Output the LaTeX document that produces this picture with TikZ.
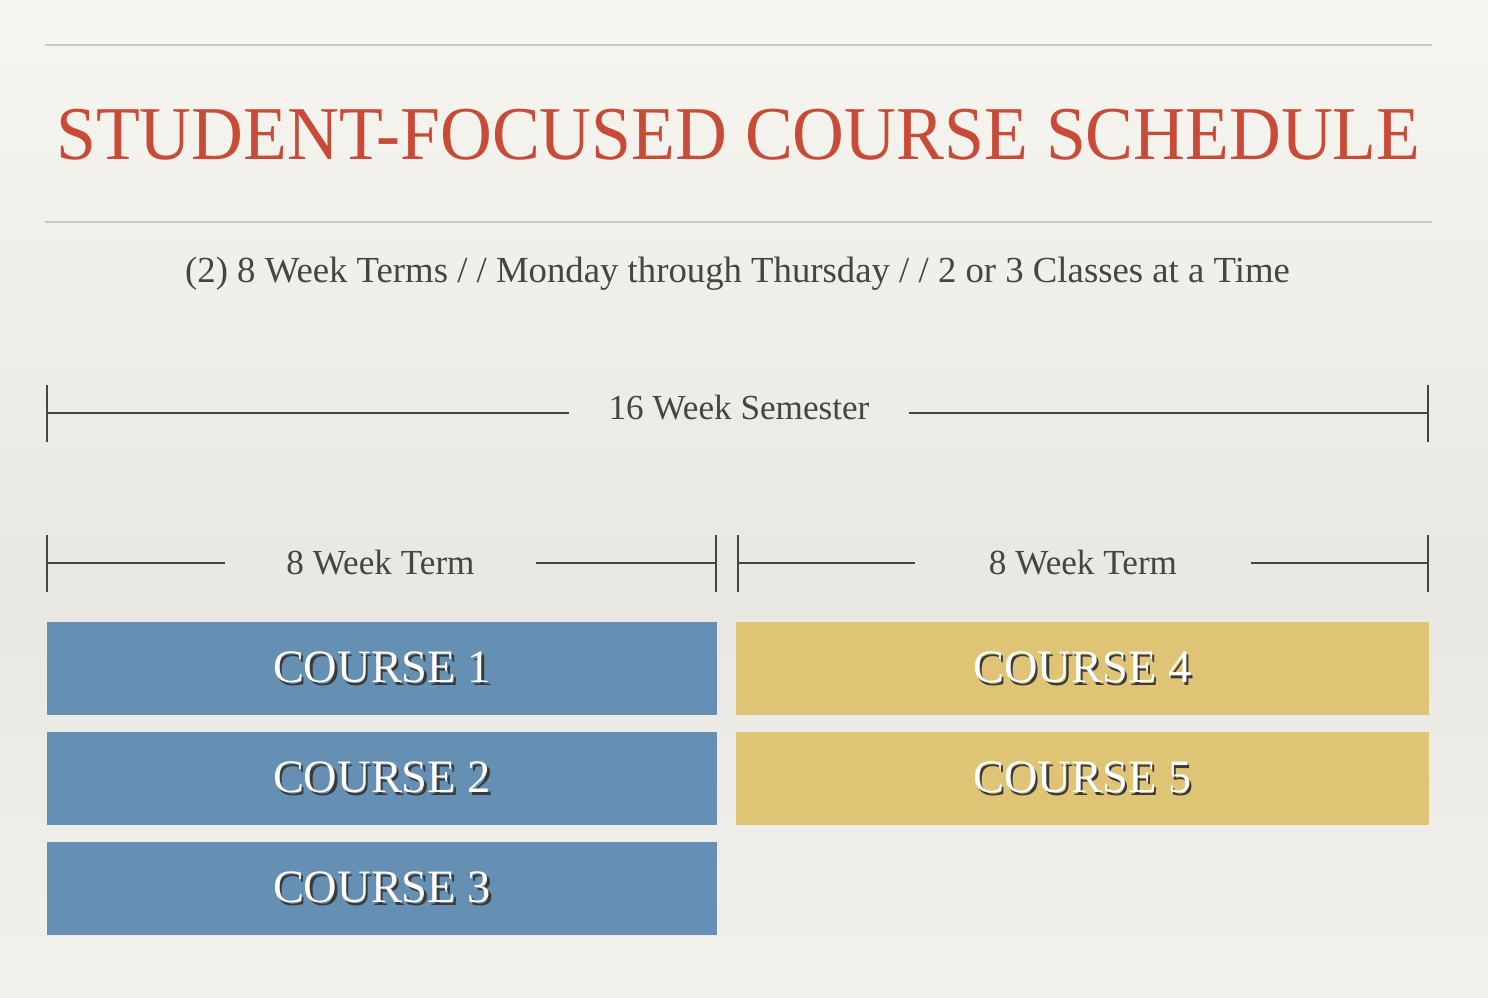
\documentclass[tikz,border=0pt]{standalone}
\usepackage{fontspec}
\setmainfont{Liberation Serif}
\usepackage{xcolor}
\usetikzlibrary{positioning}

\definecolor{titlered}{HTML}{C84B37}
\definecolor{inkgray}{HTML}{454545}
\definecolor{rulegray}{HTML}{C9C6C0}
\definecolor{courseblue}{HTML}{6690B3}
\definecolor{courseyellow}{HTML}{DFC476}
\definecolor{shadowgray}{HTML}{3A3A3A}
\definecolor{paperhi}{HTML}{F7F5F0}
\definecolor{papermid}{HTML}{E9E7E2}
\definecolor{paperlo}{HTML}{F3F1EC}

\pgfdeclareverticalshading{paper}{100bp}{color(0bp)=(paperlo); color(25bp)=(paperlo); color(45bp)=(papermid); color(75bp)=(paperhi); color(100bp)=(paperhi)}

\newcommand\shadowtext[1]{\makebox[0pt][l]{\kern0.7pt\raisebox{-0.8pt}{\color{shadowgray}#1}}{\color{white}#1}}

\begin{document}
\begin{tikzpicture} [x=0.01cm, y=-0.01cm, %pixel grid, y going down
	dimline/.style={inkgray, line width=0.6pt},
	dimlabel/.style={text=inkgray, font=\fontsize{10}{12}\selectfont, inner sep=0pt},
	coursebox/.style={minimum height=0.93cm, inner sep=0pt, outer sep=0pt, font=\fontsize{13.2}{16}\selectfont},
	bluebox/.style={coursebox, fill=courseblue, minimum width=6.7cm},
	yellowbox/.style={coursebox, fill=courseyellow, minimum width=6.92cm}]

	%paper background
\fill [shading=paper] (0,0) rectangle (1488,998);
\useasboundingbox (0,0) rectangle (1488,998);

	%title block
\draw [rulegray, line width=0.3pt] (45,45) -- (1432,45);
\draw [rulegray, line width=0.3pt] (45,222) -- (1432,222);
\node [anchor=base, text=titlered, font=\fontsize{20.4}{24}\selectfont, inner sep=0pt] (title) at (738.5,160) {\scalebox{1}[1.06]{STUDENT-FOCUSED COURSE SCHEDULE}};
\node [anchor=base, text=inkgray, font=\fontsize{10.45}{13}\selectfont, inner sep=0pt] (subtitle) at (737.5,283) {(2) 8 Week Terms / / Monday through Thursday / / 2 or 3 Classes at a Time};

	%end points of the dimension lines
\coordinate (semL) at (47,413);
\coordinate (semR) at (1428,413);
\coordinate (termAL) at (47,563);
\coordinate (termAR) at (716,563);
\coordinate (termBL) at (738,563);
\coordinate (termBR) at (1428,563);

\node [dimlabel, anchor=base, minimum width=3.38cm] (semtxt) at (739,420) {16 Week Semester};
\node [dimlabel, anchor=base, minimum width=3.09cm] (termAtxt) at (380.5,575) {8 Week Term};
\node [dimlabel, anchor=base, minimum width=3.34cm] (termBtxt) at (1083,575) {8 Week Term};

\draw [dimline] (semL) -- (semtxt.west |- semL);
\draw [dimline] (semtxt.east |- semR) -- (semR);
\draw [dimline] (termAL) -- (termAtxt.west |- termAL);
\draw [dimline] (termAtxt.east |- termAR) -- (termAR);
\draw [dimline] (termBL) -- (termBtxt.west |- termBL);
\draw [dimline] (termBtxt.east |- termBR) -- (termBR);

	%tiny end ticks
\foreach \p in {semL,semR,termAL,termAR,termBL,termBR}
	\draw [dimline] (\p) ++(0,-28) -- ++(0,57);

	%course bars
\node [bluebox] (course1) at (382,668.5) {\shadowtext{COURSE 1}};
\node [bluebox, below=0.17cm of course1] (course2) {\shadowtext{COURSE 2}};
\node [bluebox, below=0.17cm of course2] (course3) {\shadowtext{COURSE 3}};
\node [yellowbox, right=0.19cm of course1] (course4) {\shadowtext{COURSE 4}};
\node [yellowbox, below=0.17cm of course4] (course5) {\shadowtext{COURSE 5}};

\end{tikzpicture}
\end{document}
